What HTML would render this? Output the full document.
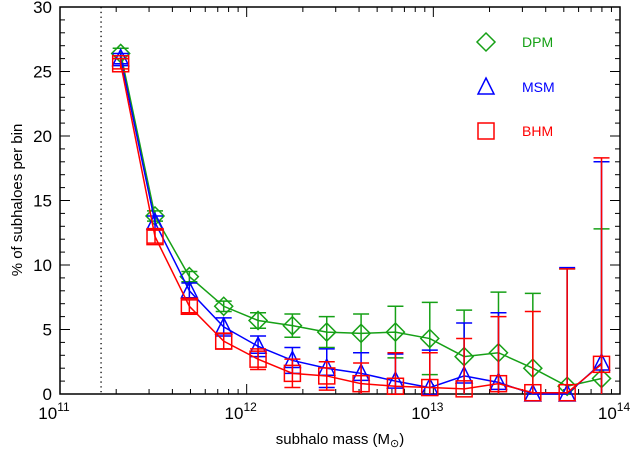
<!DOCTYPE html>
<html><head><meta charset="utf-8"><style>
html,body{margin:0;padding:0;background:#fff;}
svg{display:block;font-family:"Liberation Sans",Helvetica,sans-serif;}
</style></head><body>
<svg id="chart" width="633" height="450" viewBox="0 0 633 450" xmlns="http://www.w3.org/2000/svg">
<g id="axes"></g>
<g id="series"></g>
<g id="legend"></g>
</svg>
<script>
const logMass = [11.325,11.509,11.693,11.877,12.061,12.245,12.429,12.613,12.797,12.981,13.165,13.349,13.533,13.717,13.901];
const dpmValues = [26.4,13.8,9.1,6.8,5.7,5.3,4.8,4.7,4.8,4.3,2.9,3.2,2.0,0.6,1.2];
const dpmErrors = [0.4,0.4,0.4,0.4,0.6,0.9,1.2,1.5,2.0,2.8,3.6,4.7,5.8,9.1,11.6];
const msmValues = [26.0,13.3,8.0,5.2,3.7,2.6,2.0,1.6,1.0,0.5,1.4,0.9,0.0,0.0,2.4];
const msmErrors = [0.4,0.5,0.6,0.7,0.8,1.0,1.5,1.6,2.1,2.9,4.1,5.4,0.0,9.8,15.6];
const bhmValues = [25.6,12.2,6.8,4.1,2.7,1.6,1.4,0.8,0.6,0.5,0.4,0.8,0.1,0.1,2.3];
const bhmErrors = [0.4,0.5,0.5,0.6,0.8,1.1,1.1,1.6,2.6,2.7,3.9,5.2,6.3,9.6,16.0];
const yTicks = [0,5,10,15,20,25,30];
const xTickExps = [11,12,13,14];
const cutoffLogMass = 11.22;

const L=60,R=620,T=7,B=394;
const NS="http://www.w3.org/2000/svg";
const xs=v=>L+(v-11)/3*(R-L);
const ys=v=>B-v/30*(B-T);
function mk(tag,attrs,parent){const e=document.createElementNS(NS,tag);for(const k in attrs)e.setAttribute(k,attrs[k]);parent.appendChild(e);return e;}
const axes=document.getElementById('axes');
const ser=document.getElementById('series');
const leg=document.getElementById('legend');

// cutoff line
let cl=mk('line',{x1:xs(cutoffLogMass),x2:xs(cutoffLogMass),y1:T,y2:B,stroke:'#000','stroke-width':1.3,'stroke-dasharray':'1.3,3.5'},axes);



// frame
let fr=mk('rect',{x:L,y:T,width:R-L,height:B-T,fill:'none',stroke:'#000','stroke-width':1.5},axes);



// y ticks
for(let v=0;v<=30;v++){const y=ys(v);const len=(v%5===0)?10:5;
 mk('line',{x1:L,x2:L+len,y1:y,y2:y,stroke:'#000','stroke-width':1},axes);
 mk('line',{x1:R,x2:R-len,y1:y,y2:y,stroke:'#000','stroke-width':1},axes);}
yTicks.forEach(v=>{const t=mk('text',{x:L-8,y:ys(v)+6,'text-anchor':'end','font-size':17},axes);t.textContent=v;
 
 });
// x ticks
for(let d=11;d<14;d++){for(let m=1;m<10;m++){const x=xs(d+Math.log10(m));const len=m===1?10:5;
 mk('line',{x1:x,x2:x,y1:B,y2:B-len,stroke:'#000','stroke-width':1},axes);
 mk('line',{x1:x,x2:x,y1:T,y2:T+len,stroke:'#000','stroke-width':1},axes);}}
xTickExps.forEach(e=>{const t=mk('text',{x:xs(e)-6,y:419,'text-anchor':'middle','font-size':17},axes);
 t.textContent='10';const s=mk('tspan',{dy:-8,'font-size':12},t);s.textContent=e;
 
 });
let xt=mk('text',{x:340,y:444,'text-anchor':'middle','font-size':15},axes);xt.textContent='subhalo mass (M';
let sub=mk('tspan',{dy:3,'font-size':11},xt);sub.textContent='⊙';let cl2=mk('tspan',{dy:-3},xt);cl2.textContent=')';


let yt=mk('text',{x:0,y:0,'text-anchor':'middle','font-size':15,transform:'translate(22,200) rotate(-90)'},axes);yt.textContent='% of subhaloes per bin';



function marker(type,x,y,color,parent){
 if(type==='diamond')return mk('polygon',{points:`${x},${y-9} ${x+9},${y} ${x},${y+9} ${x-9},${y}`,fill:'none',stroke:color,'stroke-width':1.5},parent);
 if(type==='triangle')return mk('polygon',{points:`${x},${y-9} ${x+8},${y+7} ${x-8},${y+7}`,fill:'none',stroke:color,'stroke-width':1.5},parent);
 return mk('rect',{x:x-8,y:y-8,width:16,height:16,fill:'none',stroke:color,'stroke-width':1.5},parent);
}
function drawSeries(name,vals,errs,color,type){
 const g=mk('g',{},ser);
 
 
 const pts=vals.map((v,i)=>xs(logMass[i])+','+ys(v)).join(' ');
 mk('polyline',{points:pts,fill:'none',stroke:color,'stroke-width':1.5},g);
 vals.forEach((v,i)=>{const x=xs(logMass[i]);const up=ys(Math.min(30,v+errs[i]));const lo=ys(Math.max(0,v-errs[i]));
  if(errs[i]>0){mk('line',{x1:x,x2:x,y1:up,y2:lo,stroke:color,'stroke-width':1.5},g);
   mk('line',{x1:x-8,x2:x+8,y1:up,y2:up,stroke:color,'stroke-width':1.5},g);
   if(v-errs[i]>0)mk('line',{x1:x-8,x2:x+8,y1:lo,y2:lo,stroke:color,'stroke-width':1.5},g);}
  const m=marker(type,x,ys(v),color,g);
  
  });
}
drawSeries('dpm',dpmValues,dpmErrors,'#16a016','diamond');
drawSeries('msm',msmValues,msmErrors,'#0000ff','triangle');
drawSeries('bhm',bhmValues,bhmErrors,'#ff0000','square');

[['DPM','#16a016','diamond',42],['MSM','#0000ff','triangle',87],['BHM','#ff0000','square',131]].forEach(([lab,c,t,y])=>{
 const g=mk('g',{},leg);
 
 
 marker(t,486,y,c,g);
 const tx=mk('text',{x:522,y:y+5,'font-size':14,fill:c},g);tx.textContent=lab;});
</script>
</body></html>
